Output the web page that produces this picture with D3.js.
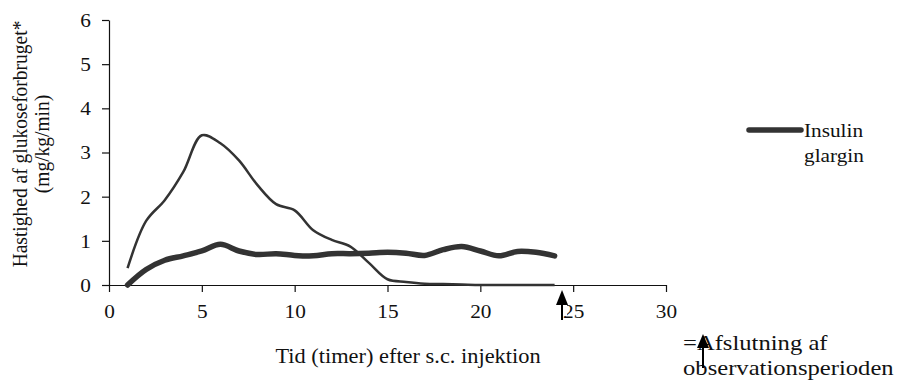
<!DOCTYPE html>
<html>
<head>
<meta charset="utf-8">
<script src="https://cdn.jsdelivr.net/npm/d3@7"></script>
<style>
  body { margin: 0; background: #fff; }
</style>
</head>
<body>
<svg id="chart" width="899" height="380"></svg>
<script>
// timer efter injektion
const hours = d3.range(1, 25);
// Insulin glargin (tyk linje)
const glargin = [0, 0.35, 0.56, 0.66, 0.77, 0.92, 0.77, 0.69, 0.71, 0.67, 0.66, 0.71,
  0.71, 0.72, 0.74, 0.72, 0.67, 0.80, 0.87, 0.77, 0.66, 0.76, 0.74, 0.66];
// sammenligning (tynd linje, uden forklaring)
const comparator = [0.38, 1.45, 1.92, 2.56, 3.39, 3.21, 2.82, 2.26, 1.83, 1.69, 1.24, 1.02,
  0.87, 0.50, 0.13, 0.07, 0.03, 0.02, 0.01, 0, 0, 0, 0, 0];
const xTicks = [0, 5, 10, 15, 20, 25, 30];
const yTicks = [0, 1, 2, 3, 4, 5, 6];
const endOfObservation = 24.4;   // pil under x-aksen

const FONT = '"Liberation Serif", "Times New Roman", serif';
const SX = 1.12;  // teksten er strakt lidt vandret i originalen
const svg = d3.select('#chart');
const margin = { top: 20, left: 109, right: 233, bottom: 95 };
const W = 899, H = 380;

const x = d3.scaleLinear([0, 30], [margin.left, W - margin.right]);
const y = d3.scaleLinear([0, 6], [H - margin.bottom, margin.top]);

function label(sel, size) {
  return sel.attr('font-family', FONT).attr('font-size', size).attr('fill', '#111');
}

// akser
const gx = svg.append('g')
  .attr('transform', `translate(0,${y(0)})`)
  .call(d3.axisBottom(x).tickValues(xTicks).tickFormat(d3.format('d'))
    .tickSize(7).tickSizeOuter(0));
gx.selectAll('text')
  .attr('y', 0).attr('dy', 0)
  .attr('transform', `translate(0,33) scale(${SX},1)`)
  .call(label, 19);

const gy = svg.append('g')
  .attr('transform', `translate(${x(0)},0)`)
  .call(d3.axisLeft(y).tickValues(yTicks).tickFormat(d3.format('d'))
    .tickSize(7).tickSizeOuter(0));
gy.selectAll('text')
  .attr('x', 0).attr('dy', '0.34em')
  .attr('transform', `translate(-18,0) scale(${SX},1)`)
  .call(label, 19);

svg.selectAll('.domain, .tick line').attr('stroke', '#111').attr('stroke-width', 1.2);

// linjer
const line = d3.line()
  .x((d, i) => x(hours[i]))
  .y(d => y(d))
  .curve(d3.curveCatmullRom.alpha(0.5));

svg.append('path')
  .datum(comparator)
  .attr('d', line)
  .attr('fill', 'none')
  .attr('stroke', '#333')
  .attr('stroke-width', 2.5);

svg.append('path')
  .datum(glargin)
  .attr('d', line)
  .attr('fill', 'none')
  .attr('stroke', '#333')
  .attr('stroke-width', 5.5)
  .attr('stroke-linecap', 'round');

// aksetitler
svg.append('text')
  .attr('transform', `translate(408,363) scale(${SX},1)`)
  .attr('text-anchor', 'middle')
  .call(label, 20)
  .text('Tid (timer) efter s.c. injektion');

const yTitle = svg.append('g')
  .attr('transform', `translate(0,144) rotate(-90)`);
yTitle.append('text')
  .attr('transform', `translate(0,27) scale(1,${SX})`)
  .attr('text-anchor', 'middle')
  .call(label, 19.5)
  .text('Hastighed af glukoseforbruget*');
yTitle.append('text')
  .attr('transform', `translate(0,49) scale(1,${SX})`)
  .attr('text-anchor', 'middle')
  .call(label, 19.5)
  .text('(mg/kg/min)');

// forklaring
svg.append('line')
  .attr('x1', 749).attr('x2', 801)
  .attr('y1', 130).attr('y2', 130)
  .attr('stroke', '#333').attr('stroke-width', 5.5)
  .attr('stroke-linecap', 'round');
svg.append('text')
  .attr('transform', `translate(804,137) scale(${SX},1)`)
  .call(label, 19)
  .text('Insulin');
svg.append('text')
  .attr('transform', `translate(804,162) scale(${SX},1)`)
  .call(label, 19)
  .text('glargin');

// pil-symbol
function arrow(cx, tip, headBase, bottom) {
  const g = svg.append('g');
  g.append('path')
    .attr('d', `M${cx},${tip} L${cx - 6},${headBase} L${cx + 6},${headBase} Z`)
    .attr('fill', '#000');
  g.append('line')
    .attr('x1', cx).attr('x2', cx)
    .attr('y1', headBase).attr('y2', bottom)
    .attr('stroke', '#000').attr('stroke-width', 2);
  return g;
}

const ax = x(endOfObservation);
svg.append('rect')
  .attr('x', ax - 7).attr('y', 289).attr('width', 12).attr('height', 27)
  .attr('fill', '#fff');
arrow(ax, 290, 305, 320);

svg.append('text')
  .attr('transform', `translate(683,350) scale(${SX},1)`)
  .call(label, 22)
  .text('=Afslutning af');
svg.append('text')
  .attr('transform', `translate(683,375) scale(${SX},1)`)
  .call(label, 22)
  .text('observationsperioden');
arrow(703, 334, 348, 368);
</script>
</body>
</html>
